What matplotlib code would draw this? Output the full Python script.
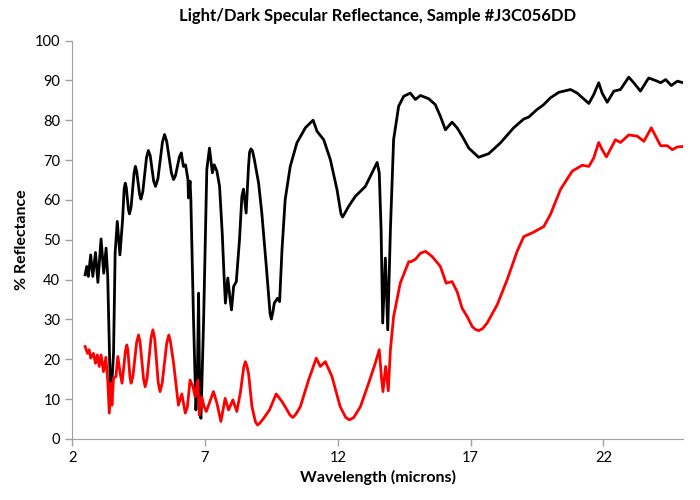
import matplotlib
matplotlib.use("Agg")
import matplotlib.pyplot as plt

# light sample (black): wavelength (microns), % reflectance
light_wl = [2.49, 2.55, 2.61, 2.70, 2.78, 2.88, 2.97, 3.09, 3.19, 3.28, 3.34, 3.43, 3.48, 3.56,
            3.62, 3.70, 3.80, 3.90, 3.96, 4.00, 4.04, 4.12, 4.16, 4.22, 4.33, 4.38, 4.43, 4.54,
            4.59, 4.66, 4.80, 4.87, 4.94, 5.07, 5.14, 5.23, 5.40, 5.48, 5.56, 5.74, 5.82, 5.89,
            6.04, 6.11, 6.19, 6.27, 6.32, 6.36, 6.38, 6.44, 6.47, 6.57, 6.66, 6.71, 6.76, 6.81,
            6.85, 6.95, 7.07, 7.17, 7.28, 7.35, 7.45, 7.55, 7.65, 7.72, 7.77, 7.86, 7.95, 8.00,
            8.08, 8.18, 8.30, 8.39, 8.45, 8.55, 8.64, 8.68, 8.73, 8.79, 8.86, 9.02, 9.14, 9.31,
            9.45, 9.50, 9.56, 9.61, 9.73, 9.81, 9.90, 10.02, 10.21, 10.46, 10.78, 11.07, 11.22,
            11.47, 11.72, 11.97, 12.12, 12.18, 12.25, 12.41, 12.66, 13.04, 13.29, 13.48, 13.56,
            13.63, 13.69, 13.79, 13.88, 13.98, 14.10, 14.29, 14.48, 14.73, 14.92, 15.11, 15.42,
            15.67, 15.86, 16.05, 16.30, 16.49, 16.68, 16.93, 17.30, 17.68, 18.12, 18.62, 19.00,
            19.19, 19.50, 19.75, 20.00, 20.32, 20.76, 21.01, 21.45, 21.63, 21.82, 21.95, 22.14,
            22.39, 22.64, 22.95, 23.14, 23.39, 23.70, 24.02, 24.15, 24.34, 24.55, 24.78, 25.00]
light_r = [41.2, 43.3, 40.8, 46.2, 40.8, 46.8, 39.3, 50.2, 41.6, 47.9, 40.8, 14.8, 12.0, 21.6,
           46.7, 54.6, 46.2, 55.0, 62.9, 64.2, 63.1, 57.6, 56.5, 58.2, 66.6, 68.4, 67.2, 61.4,
           60.2, 62.0, 70.6, 72.4, 71.1, 64.7, 63.4, 65.3, 74.5, 76.4, 74.7, 66.7, 65.1, 66.1,
           70.8, 71.8, 68.4, 68.8, 66.8, 65.1, 60.5, 64.7, 60.0, 29.9, 7.3, 13.1, 36.6, 6.5,
           5.2, 29.9, 67.6, 73.0, 66.8, 68.8, 67.2, 63.4, 51.7, 40.8, 34.1, 40.4, 34.9, 32.4,
           38.3, 39.5, 50.0, 60.9, 62.7, 56.7, 68.4, 72.0, 72.8, 72.3, 70.1, 64.2, 56.7, 43.3,
           31.5, 30.1, 32.0, 34.1, 35.3, 34.5, 47.5, 60.1, 68.4, 74.3, 78.1, 80.0, 77.2,
           75.1, 70.1, 62.6, 56.5, 55.7, 56.5, 58.4, 60.9, 63.4, 66.8, 69.4, 66.8,
           52.5, 29.1, 45.4, 27.4, 52.5, 75.1, 83.5, 86.0, 86.8, 85.2, 86.2, 85.4,
           83.9, 81.0, 77.6, 79.5, 78.1, 76.0, 73.0, 70.7, 71.6, 74.3, 78.1, 80.3,
           80.8, 82.7, 83.9, 85.6, 87.0, 87.7, 86.8, 84.2, 86.4, 89.4, 86.8, 84.5,
           87.3, 87.7, 90.8, 89.4, 87.3, 90.6, 89.8, 89.4, 90.2, 88.7, 89.8, 89.4]

# dark sample (red)
dark_wl = [2.49, 2.58, 2.64, 2.70, 2.80, 2.88, 2.95, 3.02, 3.09, 3.18, 3.27, 3.34, 3.40, 3.46,
           3.50, 3.56, 3.65, 3.72, 3.81, 3.88, 4.01, 4.06, 4.10, 4.18, 4.22, 4.29, 4.43, 4.50,
           4.56, 4.69, 4.75, 4.82, 4.97, 5.04, 5.11, 5.24, 5.31, 5.39, 5.56, 5.64, 5.70, 5.82,
           6.00, 6.13, 6.26, 6.34, 6.44, 6.55, 6.63, 6.73, 6.79, 6.88, 6.97, 7.05, 7.32, 7.45,
           7.60, 7.76, 7.89, 8.05, 8.20, 8.33, 8.46, 8.52, 8.58, 8.64, 8.77, 8.90, 8.98, 9.07,
           9.21, 9.43, 9.68, 9.90, 10.09, 10.20, 10.31, 10.42, 10.59, 10.90, 11.19, 11.34, 11.53,
           11.78, 12.09, 12.30, 12.44, 12.60, 12.85, 13.16, 13.41, 13.56, 13.64, 13.70, 13.80,
           13.90, 13.98, 14.10, 14.35, 14.67, 14.76, 14.92, 15.11, 15.30, 15.55, 15.86, 16.08,
           16.30, 16.49, 16.68, 16.87, 17.06, 17.18, 17.30, 17.45, 17.62, 18.00, 18.37, 18.75,
           19.00, 19.31, 19.75, 20.00, 20.38, 20.82, 21.20, 21.45, 21.63, 21.82, 21.95, 22.11,
           22.45, 22.64, 22.95, 23.27, 23.52, 23.80, 23.96, 24.15, 24.40, 24.59, 24.78, 25.00]
dark_r = [23.2, 21.5, 22.4, 20.3, 21.5, 19.0, 21.1, 18.2, 21.1, 16.9, 20.5, 14.8, 6.5, 14.0,
          8.5, 15.3, 15.7, 20.7, 16.5, 14.0, 22.2, 23.6, 22.2, 15.4, 14.0, 15.8, 24.3, 26.1,
          24.2, 15.0, 13.1, 15.2, 25.3, 27.4, 25.1, 14.2, 11.9, 14.0, 24.0, 26.1, 24.5, 19.0,
          8.5, 11.3, 6.5, 8.1, 14.8, 13.1, 10.6, 14.8, 6.0, 10.6, 8.1, 6.9, 11.9, 9.0,
          4.4, 10.2, 7.3, 9.8, 6.9, 11.5, 18.0, 19.4, 18.3, 16.5, 8.1, 4.3, 3.5, 4.0,
          5.2, 7.3, 11.3, 9.4, 7.3, 6.0, 5.4, 6.2, 8.1, 14.8, 20.3, 18.2, 19.4,
          15.7, 8.1, 5.4, 4.8, 5.4, 8.1, 14.0, 19.0, 22.4, 15.7, 11.9, 18.2,
          12.1, 22.4, 30.7, 39.1, 44.5, 44.5, 45.1, 46.6, 47.1, 45.8, 43.3, 39.1,
          39.5, 37.0, 32.8, 30.7, 28.2, 27.5, 27.2, 27.7, 29.1, 33.7, 39.9, 47.1,
          50.8, 51.7, 53.3, 56.3, 62.6, 67.2, 68.7, 68.4, 70.5, 74.4, 72.6, 70.8,
          75.1, 74.4, 76.3, 76.0, 74.7, 78.1, 76.0, 73.6, 73.6, 72.6, 73.3, 73.4]

x_ticks = [2, 7, 12, 17, 22]
y_ticks = list(range(0, 101, 10))

plt.rcParams['font.family'] = ['Lato', 'DejaVu Sans']

fig = plt.figure(figsize=(7, 5), dpi=100)
ax = fig.add_axes([0.103, 0.122, 0.873, 0.797])

ax.plot(light_wl, light_r, color='black', linewidth=2, solid_joinstyle='round')
ax.plot(dark_wl, dark_r, color='#ff0000', linewidth=2, solid_joinstyle='round')

ax.set_xlim(2, 25)
ax.set_ylim(0, 100)
ax.set_xticks(x_ticks)
ax.set_yticks(y_ticks)
ax.tick_params(axis='both', labelsize=10.5, color='#a0a0a0', length=5, width=1)

for side in ['top', 'right']:
    ax.spines[side].set_visible(False)
for side in ['left', 'bottom']:
    ax.spines[side].set_color('#a0a0a0')

ax.set_title("Light/Dark Specular Reflectance, Sample #J3C056DD",
             fontsize=12, fontweight='bold', pad=14)
ax.set_xlabel("Wavelength (microns)", fontsize=11.5, fontweight='bold')
ax.set_ylabel("% Reflectance", fontsize=11.5, fontweight='bold')

fig.savefig("out.png", dpi=100)
